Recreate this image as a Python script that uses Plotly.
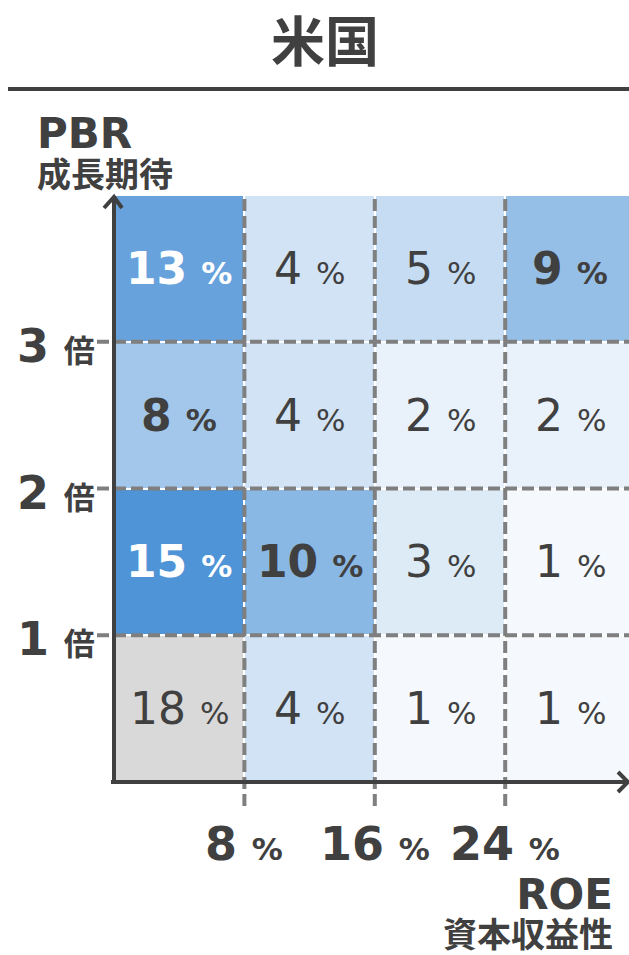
import plotly.graph_objects as go

# ROE buckets (columns) and PBR buckets (rows, bottom to top)
roe_edges = [0, 8, 16, 24, 32]
roe_ticks = [8, 16, 24]
pbr_edges = [0, 1, 2, 3, 4]
pbr_ticks = [1, 2, 3]
# share of companies (%) per cell, rows: PBR <1, 1-2, 2-3, >3
share = [
    [18, 4, 1, 1],
    [15, 10, 3, 1],
    [8, 4, 2, 2],
    [13, 4, 5, 9],
]
title = "米国"
y_name, y_sub = "PBR", "成長期待"
x_name, x_sub = "ROE", "資本収益性"
y_unit, x_unit = "倍", "%"

W, H = 629, 955
DARK = "#404040"
GRID = "#7f7f7f"
LATIN = "DejaVu Sans, Noto Sans CJK JP"
CJK = "Noto Sans CJK JP"

# pixel geometry of the grid
X0_PX, X_SCALE = 114, 16.3      # px of ROE=0, px per ROE point
Y0_PX, Y_SCALE = 782, 146.75    # px of PBR=0, px per PBR unit

x_range = [-X0_PX / X_SCALE, (W - X0_PX) / X_SCALE]
y_range = [-(H - Y0_PX) / Y_SCALE, Y0_PX / Y_SCALE]


def dx(px):
    return (px - X0_PX) / X_SCALE


def dy(py):
    return (Y0_PX - py) / Y_SCALE


x_centers = [(a + b) / 2 for a, b in zip(roe_edges[:-1], roe_edges[1:])]
y_centers = [(a + b) / 2 for a, b in zip(pbr_edges[:-1], pbr_edges[1:])]

# the low-PBR / low-ROE cell is shown in grey, the rest on a blue scale
z_blue = [[None if (i == 0 and j == 0) else v for j, v in enumerate(row)]
          for i, row in enumerate(share)]
z_grey = [[v if (i == 0 and j == 0) else None for j, v in enumerate(row)]
          for i, row in enumerate(share)]

fig = go.Figure()
fig.add_trace(go.Heatmap(
    x=x_centers, y=y_centers, z=z_blue, zmin=1, zmax=15,
    colorscale=[[0, "#f5f9fd"], [1, "#4f94d6"]],
    showscale=False, xgap=2, ygap=2, hoverinfo="skip",
))
fig.add_trace(go.Heatmap(
    x=x_centers, y=y_centers, z=z_grey,
    colorscale=[[0, "#d9d9d9"], [1, "#d9d9d9"]],
    showscale=False, xgap=2, ygap=2, hoverinfo="skip",
))

shapes = []
dash = "12px,5px"
for xv in roe_ticks:
    shapes.append(dict(type="line", x0=xv, x1=xv, y0=dy(806), y1=pbr_edges[-1],
                       line=dict(color=GRID, width=4, dash=dash)))
for yv in pbr_ticks:
    shapes.append(dict(type="line", x0=dx(97), x1=roe_edges[-1], y0=yv, y1=yv,
                       line=dict(color=GRID, width=4, dash=dash)))

# axes with open arrow heads
axis_line = dict(color=DARK, width=4)
shapes.append(dict(type="line", x0=0, x1=0, y0=dy(784), y1=dy(197), line=axis_line))
shapes.append(dict(type="line", x0=dx(111), x1=dx(628), y0=0, y1=0, line=axis_line))
shapes.append(dict(type="path",
                   path=f"M {dx(104)} {dy(208)} L 0 {dy(197)} L {dx(122)} {dy(208)}",
                   line=axis_line))
shapes.append(dict(type="path",
                   path=f"M {dx(618)} {dy(772)} L {dx(628)} 0 L {dx(618)} {dy(792)}",
                   line=axis_line))

# title rule
shapes.append(dict(type="line", xref="paper", yref="paper",
                   x0=8 / W, x1=1, y0=1 - 89 / H, y1=1 - 89 / H,
                   line=dict(color=DARK, width=4)))

annotations = []


def pct_label(v, bold, num_size, unit_size, unit):
    if bold:
        return (f"<span style='font-size:{num_size}px'><b>{v}</b></span>"
                f" <span style='font-size:{unit_size}px'><b>{unit}</b></span>")
    return (f"<span style='font-size:{num_size}px'>{v}</span>"
            f" <span style='font-size:{unit_size}px'>{unit}</span>")


for i, row in enumerate(share):
    for j, v in enumerate(row):
        bold = v >= 8 and not (i == 0 and j == 0)
        color = "white" if (v >= 12 and not (i == 0 and j == 0)) else DARK
        annotations.append(dict(
            x=x_centers[j], y=y_centers[i], xref="x", yref="y",
            text=pct_label(v, bold, 44, 31, x_unit), showarrow=False,
            font=dict(family=LATIN, size=44, color=color),
            xanchor="center", yanchor="middle",
        ))

for xv in roe_ticks:
    annotations.append(dict(
        x=xv, y=dy(844), xref="x", yref="y",
        text=pct_label(xv, True, 46, 31, x_unit), showarrow=False,
        font=dict(family=LATIN, size=46, color=DARK),
        xanchor="center", yanchor="middle",
    ))

for yv in pbr_ticks:
    annotations.append(dict(
        x=dx(97), y=yv - 4 / Y_SCALE, xref="x", yref="y",
        text=pct_label(yv, True, 46, 31, y_unit), showarrow=False,
        font=dict(family=LATIN, size=46, color=DARK),
        xanchor="right", yanchor="middle",
    ))


def axis_title(name, sub):
    return (f"<span style='font-size:42px'><b>{name}</b></span><br>"
            f"<span style='font-size:34px'><b>{sub}</b></span>")


annotations += [
    dict(x=325 / W, y=1 - 38 / H, xref="paper", yref="paper", text=f"<b>{title}</b>",
         showarrow=False, font=dict(family=CJK, size=54, color=DARK),
         xanchor="center", yanchor="middle"),
    dict(x=35 / W, y=1 - 152 / H, xref="paper", yref="paper",
         text=axis_title(y_name, y_sub), align="left",
         showarrow=False, font=dict(family=LATIN, size=30, color=DARK),
         xanchor="left", yanchor="middle"),
    dict(x=615 / W, y=1 - 912 / H, xref="paper", yref="paper",
         text=axis_title(x_name, x_sub), align="right",
         showarrow=False, font=dict(family=LATIN, size=29, color=DARK),
         xanchor="right", yanchor="middle"),
]

fig.update_layout(
    width=W, height=H,
    margin=dict(l=0, r=0, t=0, b=0),
    paper_bgcolor="white", plot_bgcolor="white",
    xaxis=dict(range=x_range, domain=[0, 1], visible=False, fixedrange=True),
    yaxis=dict(range=y_range, domain=[0, 1], visible=False, fixedrange=True),
    shapes=shapes, annotations=annotations,
    showlegend=False,
)

fig.write_html("out.html")
